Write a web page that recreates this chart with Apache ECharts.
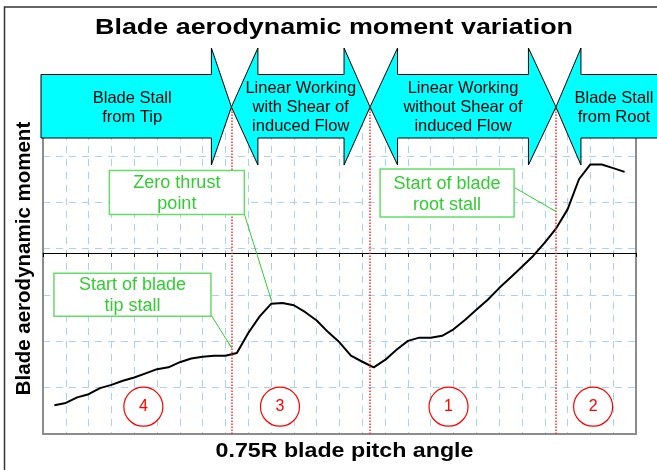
<!DOCTYPE html>
<html>
<head>
<meta charset="utf-8">
<script src="https://cdn.jsdelivr.net/npm/echarts@6/dist/echarts.min.js"></script>
<style>
html, body { margin: 0; padding: 0; background: #fff; }
#chart { width: 657px; height: 470px; }
</style>
</head>
<body>
<div id="chart"></div>
<script>
// x: pitch angle in grid steps, y: moment in grid steps (0 = the black axis line)
const pitch = [0.5, 1, 1.5, 2, 2.5, 3, 3.5, 4, 4.5, 5, 5.5, 6, 6.5, 7, 7.5, 8, 8.5, 9, 9.5, 10,
  10.5, 11, 11.5, 12, 12.5, 13, 13.5, 14, 14.5, 15, 15.5, 16, 16.5, 17, 17.5, 18, 18.5, 19, 19.5, 20,
  20.5, 21, 21.5, 22, 22.5, 23, 23.5, 24, 24.5, 25, 25.5]
const moment = [-3.29, -3.24, -3.12, -3.05, -2.92, -2.85, -2.76, -2.69, -2.60, -2.51, -2.47, -2.36, -2.28, -2.24, -2.22, -2.22, -2.16, -1.73, -1.37, -1.10,
  -1.08, -1.13, -1.28, -1.46, -1.71, -1.93, -2.22, -2.35, -2.47, -2.31, -2.09, -1.90, -1.83, -1.83, -1.79, -1.65, -1.45, -1.23, -1.01, -0.76,
  -0.53, -0.30, -0.06, 0.22, 0.53, 0.94, 1.59, 1.91, 1.91, 1.83, 1.75]

// working zones
const zoneBounds = [8.26, 14.34, 22.49]
const zoneNames = ['Blade Stall\nfrom Tip', 'Linear Working\nwith Shear of\ninduced Flow',
  'Linear Working\nwithout Shear of\ninduced Flow', 'Blade Stall\nfrom Root']
const zoneIds = ['4', '3', '1', '2']
const zoneIdX = [4.4, 10.39, 17.78, 24.12]
const zoneIdY = -3.32

// callouts
const notes = ['Zero thrust\npoint', 'Start of blade\ntip stall', 'Start of blade\nroot stall']
const noteFrom = [[8.83, 0.835], [7.37, -1.34], [20.64, 1.42]]
const noteTo = [[10.03, -1.05], [8.28, -2.06], [22.5, 0.89]]

const yMin = -3.91
const yMax = 3.15
const gridColor = '#a9d1f7'
const font = '"Liberation Sans", Arial, sans-serif'

const chart = echarts.init(document.getElementById('chart'))

chart.setOption({
  animation: false,
  backgroundColor: '#fff',
  grid: { left: 43, right: 21, top: 107, bottom: 36 },
  xAxis: [
    {
      type: 'value', min: 0, max: 26, interval: 1,
      axisLine: { onZero: true, onZeroAxisIndex: 0, lineStyle: { color: '#000', width: 1 } },
      axisTick: { show: true, length: 4, lineStyle: { color: '#000' } },
      axisLabel: { show: false },
      splitLine: { show: true, lineStyle: { color: gridColor, width: 1, type: [7, 6] } }
    },
    {
      type: 'value', min: 0, max: 26, position: 'bottom',
      axisLine: { onZero: false, lineStyle: { color: '#8c8c8c', width: 2 } },
      axisTick: { show: false },
      axisLabel: { show: false },
      splitLine: { show: false }
    }
  ],
  yAxis: [
    {
      type: 'value', min: yMin, max: yMax,
      axisLine: { show: true, onZero: false, lineStyle: { color: '#8c8c8c', width: 2 } },
      axisTick: { show: false },
      axisLabel: { show: false },
      splitLine: { show: false }
    },
    {
      type: 'value', min: 0, max: yMax - yMin, interval: 1, position: 'right',
      axisLine: { show: true, onZero: false, lineStyle: { color: '#8c8c8c', width: 2 } },
      axisTick: { show: false },
      axisLabel: { show: false },
      splitLine: { show: true, lineStyle: { color: gridColor, width: 1, type: [7, 6] } }
    }
  ],
  series: [
    {
      type: 'line',
      xAxisIndex: 0,
      yAxisIndex: 0,
      data: pitch.map((p, i) => [p, moment[i]]),
      symbol: 'none',
      lineStyle: { color: '#000', width: 2 },
      z: 4,
      markLine: {
        silent: true,
        symbol: ['none', 'none'],
        label: { show: false },
        lineStyle: { color: '#ff2a2a', type: 'dotted', width: 1.5 },
        data: zoneBounds.map((v) => ({ xAxis: v }))
      }
    },
    {
      type: 'scatter',
      xAxisIndex: 0,
      yAxisIndex: 0,
      data: zoneIdX.map((x, i) => ({ value: [x, zoneIdY], name: zoneIds[i] })),
      symbol: 'circle',
      symbolSize: 39,
      itemStyle: { color: '#fff', borderColor: '#ff0000', borderWidth: 1.2, opacity: 1 },
      label: {
        show: true, position: 'inside', formatter: (p) => p.name,
        color: '#ff0000', fontSize: 16, fontFamily: font
      },
      z: 3,
      markLine: {
        silent: true,
        symbol: ['none', 'arrow'],
        symbolSize: [1, 6],
        label: { show: false },
        lineStyle: { color: '#33cc33', type: 'solid', width: 1 },
        data: notes.map((n, i) => [{ coord: noteFrom[i] }, { coord: noteTo[i] }])
      }
    }
  ]
})

const px = (v) => chart.convertToPixel({ xAxisIndex: 0 }, v)
const py = (v) => chart.convertToPixel({ yAxisIndex: 0 }, v)

// zone arrows across the top
const tipY = 107
const headTop = 48
const headBottom = 165
const bodyTop = 74.5
const bodyBottom = 138
const b = zoneBounds.map(px)
const leftEdge = px(0) - 2
const rightEdge = 700
const arrowStyle = { fill: '#00ffff', stroke: '#000', lineWidth: 1 }

function doubleArrow(l, r, hl, hr) {
  return [[l, tipY], [l + hl, headTop], [l + hl, bodyTop], [r - hr, bodyTop], [r - hr, headTop], [r, tipY],
    [r - hr, headBottom], [r - hr, bodyBottom], [l + hl, bodyBottom], [l + hl, headBottom]]
}

const arrows = [
  [[leftEdge, bodyTop], [b[0] - 20, bodyTop], [b[0] - 20, headTop], [b[0], tipY], [b[0] - 20, headBottom],
    [b[0] - 20, bodyBottom], [leftEdge, bodyBottom]],
  doubleArrow(b[0], b[1], 26.5, 26),
  doubleArrow(b[1], b[2], 27.5, 27.5),
  [[b[2], tipY], [b[2] + 25, headTop], [b[2] + 25, bodyTop], [rightEdge, bodyTop], [rightEdge, bodyBottom],
    [b[2] + 25, bodyBottom], [b[2] + 25, headBottom]]
]
const zoneCenters = [(leftEdge + b[0] - 20) / 2 + 6, (b[0] + b[1]) / 2, (b[1] + b[2]) / 2, b[2] + 58]

const graphics = []

graphics.push({
  type: 'rect', z: 20, silent: true,
  shape: { x: 4.5, y: 7, width: 700, height: 500 },
  style: { fill: 'none', stroke: '#333', lineWidth: 1.5 }
})

arrows.forEach((pts, i) => {
  graphics.push({ type: 'polygon', z: 10, silent: true, shape: { points: pts }, style: arrowStyle })
  graphics.push({
    type: 'text', z: 11, silent: true, x: zoneCenters[i], y: tipY + 0.5,
    style: {
      text: zoneNames[i], font: '16.5px ' + font, fill: '#000', lineHeight: 19,
      align: 'center', verticalAlign: 'middle', textAlign: 'center', textVerticalAlign: 'middle'
    }
  })
})

// callout boxes: top-left in data units, size in px
const noteBox = [[2.91, 1.78, 135, 44], [0.48, -0.44, 157, 43], [14.78, 1.81, 134, 48]]
notes.forEach((n, i) => {
  const [bx, by, w, h] = noteBox[i]
  const x0 = px(bx)
  const y0 = py(by)
  graphics.push({
    type: 'rect', z: 12, silent: true,
    shape: { x: x0, y: y0, width: w, height: h },
    style: { fill: '#fff', stroke: '#66dd66', lineWidth: 1.5 }
  })
  graphics.push({
    type: 'text', z: 13, silent: true, x: x0 + w / 2, y: y0 + h / 2 + 1,
    style: {
      text: n, font: '18px ' + font, fill: '#33cc33', lineHeight: 21,
      align: 'center', verticalAlign: 'middle', textAlign: 'center', textVerticalAlign: 'middle'
    }
  })
})

// title and axis names
graphics.push({
  type: 'text', z: 13, silent: true, x: 334, y: 28.5, scaleX: 1.25,
  style: {
    text: 'Blade aerodynamic moment variation', font: 'bold 21.5px ' + font, fill: '#000',
    align: 'center', verticalAlign: 'middle', textAlign: 'center', textVerticalAlign: 'middle'
  }
})
graphics.push({
  type: 'text', z: 13, silent: true, x: 344.5, y: 452, scaleX: 1.19,
  style: {
    text: '0.75R blade pitch angle', font: 'bold 19.5px ' + font, fill: '#000',
    align: 'center', verticalAlign: 'middle', textAlign: 'center', textVerticalAlign: 'middle'
  }
})
graphics.push({
  type: 'text', z: 13, silent: true, x: 24, y: 258.5, rotation: Math.PI / 2,
  style: {
    text: 'Blade aerodynamic moment', font: 'bold 20.5px ' + font, fill: '#000',
    align: 'center', verticalAlign: 'middle', textAlign: 'center', textVerticalAlign: 'middle'
  }
})

chart.setOption({ graphic: { elements: graphics } })
</script>
</body>
</html>
